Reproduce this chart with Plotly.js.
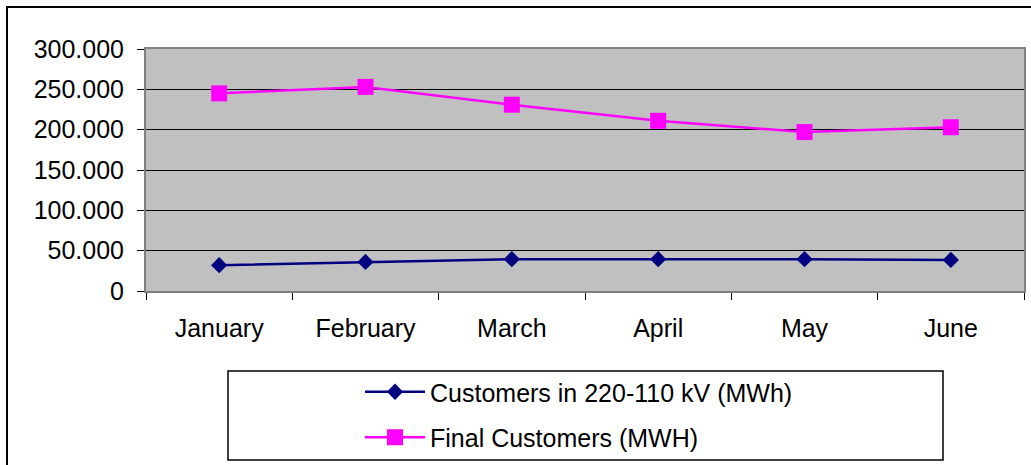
<!DOCTYPE html>
<html>
<head>
<meta charset="utf-8">
<script src="https://cdn.plot.ly/plotly-3.0.1.min.js"></script>
<style>
  html, body { margin: 0; padding: 0; background: #ffffff; }
  #chart { width: 1031px; height: 465px; }
</style>
</head>
<body>
<div id="chart"></div>
<script>
const months = ["January", "February", "March", "April", "May", "June"];
const customers220110 = [32000, 36000, 39500, 39500, 39500, 38500];
const finalCustomers = [245000, 253000, 231000, 211000, 197000, 203000];
const seriesNames = ["Customers in 220-110 kV (MWh)", "Final Customers (MWH)"];
const yTicks = [0, 50000, 100000, 150000, 200000, 250000, 300000];

const FONT = "Liberation Sans, Arial, sans-serif";

const traces = [
  {
    x: months, y: customers220110, name: seriesNames[0],
    type: "scatter", mode: "lines+markers", legendgroup: "a",
    line: { color: "#000080", width: 2.5 },
    marker: { symbol: "diamond", size: 12.5, color: "#000080", line: { width: 0 } }
  },
  {
    x: months, y: finalCustomers, name: seriesNames[1],
    type: "scatter", mode: "lines+markers", legendgroup: "b",
    line: { color: "#FF00FF", width: 2.5 },
    marker: { symbol: "square", size: 16, color: "#FF00FF", line: { width: 0 } }
  }
];

// pixel helpers for paper coords (plot area: x 146..1024, y 49..291)
const L = 146, R = 1024, T = 49, B = 291;
const px = v => (v - L) / (R - L);
const py = v => (B - v) / (B - T);

const layout = {
  width: 1031, height: 465,
  margin: { l: L, r: 1031 - R, t: T, b: 465 - B, pad: 0, autoexpand: false },
  paper_bgcolor: "#ffffff",
  plot_bgcolor: "#C0C0C0",
  separators: ",.",
  font: { family: FONT, size: 25, color: "#000000" },
  showlegend: true,
  xaxis: {
    type: "category",
    range: [-0.5, 5.5],
    tickson: "boundaries",
    ticks: "outside", ticklen: 7, tickwidth: 1, tickcolor: "#000000",
    showgrid: false, zeroline: false,
    showline: true, linecolor: "#808080", linewidth: 2, mirror: true,
    ticklabelstandoff: 14,
    tickfont: { family: FONT, size: 25, color: "#000000" },
    fixedrange: true
  },
  yaxis: {
    range: [0, 300000],
    tickvals: yTicks,
    tickformat: ",d",
    ticks: "outside", ticklen: 7, tickwidth: 1, tickcolor: "#000000",
    showgrid: true, gridcolor: "#000000", gridwidth: 1,
    zeroline: false,
    showline: true, linecolor: "#808080", linewidth: 2, mirror: true,
    ticklabelstandoff: 8,
    tickfont: { family: FONT, size: 25, color: "#000000" },
    fixedrange: true
  },
  legend: {
    x: px(360), y: py(369), xanchor: "left", yanchor: "top",
    bgcolor: "rgba(0,0,0,0)", borderwidth: 0,
    font: { family: FONT, size: 25, color: "#000000" },
    traceorder: "grouped", tracegroupgap: 10,
    itemwidth: 60, itemsizing: "trace"
  },
  shapes: [
    { type: "rect", xref: "paper", yref: "paper",
      x0: px(7), x1: px(1040), y0: py(480), y1: py(7),
      line: { color: "#000000", width: 2 }, fillcolor: "rgba(0,0,0,0)", layer: "below" },
    { type: "rect", xref: "paper", yref: "paper",
      x0: px(228), x1: px(943), y0: py(460), y1: py(371),
      line: { color: "#000000", width: 1.5 }, fillcolor: "#ffffff", layer: "below" }
  ]
};

Plotly.newPlot("chart", traces, layout, { displayModeBar: false, staticPlot: true });
</script>
</body>
</html>
